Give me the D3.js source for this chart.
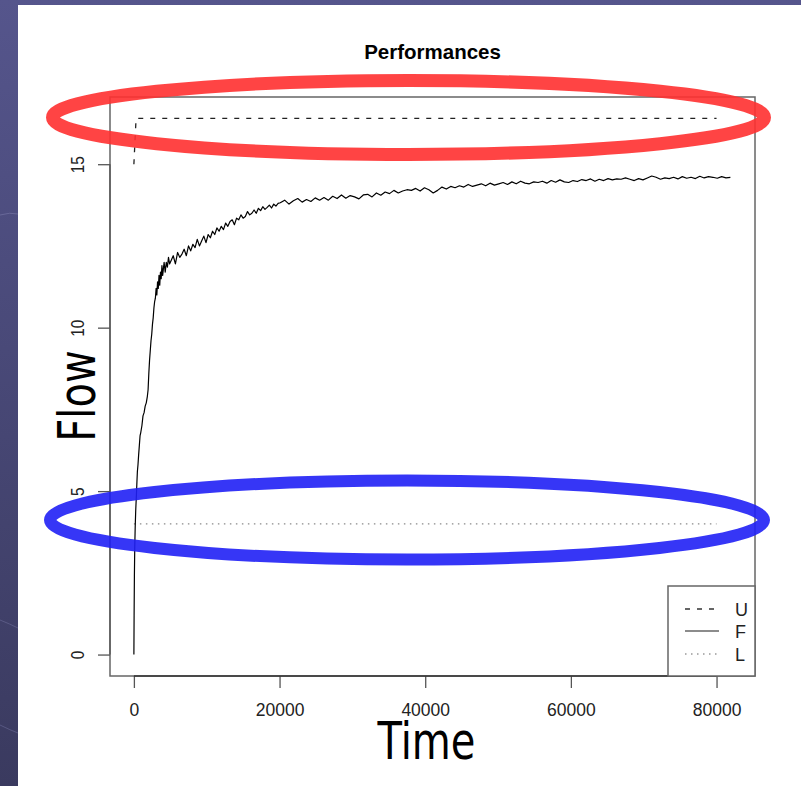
<!DOCTYPE html>
<html>
<head>
<meta charset="utf-8">
<script src="https://cdn.jsdelivr.net/npm/d3@7"></script>
<style>
html,body{margin:0;padding:0;background:#45456f;}
svg{display:block;}
</style>
</head>
<body>
<svg id="chart" width="801" height="786"></svg>
<script>
// ---------------- data ----------------
const chartTitle = "Performances";
const xLabel = "Time";
const yLabel = "Flow";
const xTicks = [0, 20000, 40000, 60000, 80000];
const yTicks = [0, 5, 10, 15];
const legendLabels = ["U", "F", "L"];

// U (upper bound) series: [time, value]
const uTime = [0, 300, 80000];
const uValue = [15, 16.4, 16.4];

// L (lower bound) series
const lTime = [0, 80000];
const lValue = [4, 4];

// F (flow) series, early rise: explicit times
const fEarlyTime = [0, 30, 70, 120, 180, 250, 330, 420, 480, 560, 650, 750, 850, 950, 1100, 1250, 1400, 1550, 1700, 1850,
  1950, 2050, 2150, 2250, 2350, 2450, 2550, 2650, 2750, 2850, 2950, 3050, 3150, 3250, 3350, 3450, 3550, 3650, 3750, 3850,
  3950, 4050, 4150, 4300, 4450, 4600, 4750, 4900];
const fEarlyValue = [0, 1.2, 2.4, 3.3, 3.9, 4.4, 4.8, 5.3, 5.6, 5.8, 6.1, 6.4, 6.7, 6.8, 7.0, 7.3, 7.4, 7.6, 7.7, 7.9,
  8.1, 8.6, 9.0, 9.3, 9.6, 9.8, 10.1, 10.3, 10.6, 10.8, 10.9, 11.2, 11.0, 11.4, 11.2, 11.6, 11.3, 11.7, 11.5, 11.9,
  11.6, 11.8, 12.0, 11.7, 12.0, 11.85, 12.15, 11.95];

// F middle part: sampled every 300 from t = 5100
const fMidStart = 5100, fMidStep = 300;
const fMidValue = [12.05, 12.2, 11.95, 12.3, 12.15, 12.25, 12.4, 12.2, 12.5, 12.35,
  12.55, 12.45, 12.7, 12.5, 12.65, 12.8, 12.6, 12.85, 12.75, 12.95,
  12.85, 13.05, 12.95, 13.1, 13.0, 13.2, 13.1, 13.25, 13.3, 13.15,
  13.35, 13.3, 13.45, 13.35, 13.4, 13.55, 13.45, 13.5, 13.6, 13.5,
  13.65, 13.58, 13.7, 13.62, 13.68, 13.75, 13.66, 13.78, 13.72, 13.8];

// F late part: sampled every 600 from t = 20100
const fLateStart = 20100, fLateStep = 600;
const fLateValue = [13.82, 13.9, 13.78, 13.88, 13.95, 13.84, 13.92, 13.86, 13.97, 13.9,
  13.98, 13.9, 14.02, 13.95, 14.06, 13.96, 14.04, 14.0, 13.94, 14.06,
  14.08, 14.0, 14.12, 14.05, 14.15, 14.1, 14.2, 14.12, 14.18, 14.22,
  14.2, 14.26, 14.18, 14.28, 14.22, 14.12, 14.2, 14.3, 14.24, 14.32,
  14.28, 14.34, 14.3, 14.38, 14.32, 14.36, 14.4, 14.34, 14.42, 14.36,
  14.4, 14.44, 14.38, 14.46, 14.4, 14.48, 14.42, 14.4, 14.46, 14.44,
  14.48, 14.42, 14.5, 14.45, 14.52, 14.46, 14.44, 14.5, 14.47, 14.53,
  14.5, 14.55, 14.48, 14.54, 14.5, 14.56, 14.52, 14.55, 14.54, 14.58,
  14.54, 14.5, 14.56, 14.52, 14.58, 14.64, 14.6, 14.54, 14.58, 14.56,
  14.6, 14.55, 14.62, 14.57, 14.6, 14.56, 14.63, 14.58, 14.62, 14.6,
  14.57, 14.62, 14.58, 14.6];

// ---------------- build series ----------------
const fSeries = fEarlyTime.map((t, i) => [t, fEarlyValue[i]])
  .concat(fMidValue.map((v, i) => [fMidStart + i * fMidStep, v]))
  .concat(fLateValue.map((v, i) => [fLateStart + i * fLateStep, v]));
const uSeries = uTime.map((t, i) => [t, uValue[i]]);
const lSeries = lTime.map((t, i) => [t, lValue[i]]);

// ---------------- layout ----------------
const svg = d3.select("#chart");
const plot = {left: 110, right: 755, top: 97, bottom: 676};

// background
const defs = svg.append("defs");
const grad = defs.append("linearGradient").attr("id", "bg").attr("x1", 0).attr("y1", 0).attr("x2", 0).attr("y2", 1);
grad.append("stop").attr("offset", "0%").attr("stop-color", "#55558c");
grad.append("stop").attr("offset", "100%").attr("stop-color", "#3a3a5f");
svg.append("rect").attr("width", 801).attr("height", 786).attr("fill", "url(#bg)");
svg.append("path").attr("d", "M0,215 Q10,212 18,214").attr("stroke", "#7a7aa8").attr("stroke-width", 1).attr("fill", "none").attr("opacity", 0.6);
svg.append("path").attr("d", "M0,620 Q10,624 18,628").attr("stroke", "#6a6a98").attr("stroke-width", 1).attr("fill", "none").attr("opacity", 0.6);
svg.append("path").attr("d", "M0,725 Q10,730 18,733").attr("stroke", "#6a6a98").attr("stroke-width", 1).attr("fill", "none").attr("opacity", 0.6);
svg.append("rect").attr("x", 18).attr("y", 5).attr("width", 783).attr("height", 781).attr("fill", "#ffffff");

// scales
const x = d3.scaleLinear().domain([-3280, 85280]).range([plot.left, plot.right]);
const y = d3.scaleLinear().domain([-0.656, 17.056]).range([plot.bottom, plot.top]);

const line = d3.line().x(d => x(d[0])).y(d => y(d[1]));

// series
svg.append("path").datum(lSeries).attr("d", line).attr("fill", "none")
  .attr("stroke", "#8a8a8a").attr("stroke-width", 1.3).attr("stroke-dasharray", "1.5,4.5");
svg.append("path").datum(uSeries).attr("d", line).attr("fill", "none")
  .attr("stroke", "#222").attr("stroke-width", 1.3).attr("stroke-dasharray", "5,7");
svg.append("path").datum(fSeries).attr("d", line).attr("fill", "none")
  .attr("stroke", "#000").attr("stroke-width", 1.2).attr("stroke-linejoin", "round");

// box
svg.append("rect").attr("x", plot.left).attr("y", plot.top)
  .attr("width", plot.right - plot.left).attr("height", plot.bottom - plot.top)
  .attr("fill", "none").attr("stroke", "#666").attr("stroke-width", 1.5);

// x axis
const xAxis = d3.axisBottom(x).tickValues(xTicks).tickSize(12).tickFormat(d3.format("d"));
const gx = svg.append("g").attr("transform", `translate(0,${plot.bottom})`).call(xAxis);
gx.select(".domain").remove();
gx.append("line").attr("x1", x(xTicks[0])).attr("x2", x(xTicks[xTicks.length - 1]))
  .attr("stroke", "#333").attr("stroke-width", 1.3);
gx.selectAll(".tick line").attr("stroke", "#555").attr("stroke-width", 1.3);
gx.selectAll(".tick text").attr("y", 40).attr("dy", null)
  .attr("font-family", "'Liberation Sans', Arial, sans-serif").attr("font-size", 17.5).attr("fill", "#222");

// y axis
const yAxis = d3.axisLeft(y).tickValues(yTicks).tickSize(12).tickFormat(d3.format("d"));
const gy = svg.append("g").attr("transform", `translate(${plot.left},0)`).call(yAxis);
gy.select(".domain").remove();
gy.append("line").attr("y1", y(yTicks[0])).attr("y2", y(yTicks[yTicks.length - 1]))
  .attr("stroke", "#555").attr("stroke-width", 1.3);
gy.selectAll(".tick line").attr("stroke", "#555").attr("stroke-width", 1.3);
gy.selectAll(".tick text").attr("x", 0).attr("y", -26).attr("dy", null)
  .attr("transform", "rotate(-90) scale(0.88,1)").attr("text-anchor", "middle")
  .attr("font-family", "'Liberation Sans', Arial, sans-serif").attr("font-size", 17.5).attr("fill", "#222");

// title
svg.append("text").attr("x", (plot.left + plot.right) / 2).attr("y", 59).attr("text-anchor", "middle")
  .attr("font-family", "'Liberation Sans', Arial, sans-serif").attr("font-weight", "bold")
  .attr("font-size", 20.5).attr("fill", "#000").text(chartTitle);

// axis titles
svg.append("text").attr("transform", "translate(426.5,759) scale(0.77,1)").attr("text-anchor", "middle")
  .attr("font-family", "'DejaVu Sans', sans-serif").attr("font-size", 52).attr("fill", "#000").text(xLabel);
svg.append("text").attr("transform", "translate(95,396) rotate(-90) scale(0.77,1)").attr("text-anchor", "middle")
  .attr("font-family", "'DejaVu Sans', sans-serif").attr("font-size", 52).attr("fill", "#000").text(yLabel);

// legend
const lg = svg.append("g");
lg.append("rect").attr("x", 668).attr("y", 586).attr("width", 87).attr("height", 90)
  .attr("fill", "#fff").attr("stroke", "#666").attr("stroke-width", 1.5);
const legendStyles = [
  {stroke: "#333", dash: "5,7"},
  {stroke: "#666", dash: null},
  {stroke: "#999", dash: "1.5,4.5"}
];
const legendY = [609, 631, 654];
legendLabels.forEach((lab, i) => {
  lg.append("line").attr("x1", 685).attr("x2", 719).attr("y1", legendY[i]).attr("y2", legendY[i])
    .attr("stroke", legendStyles[i].stroke).attr("stroke-width", 1.4)
    .attr("stroke-dasharray", legendStyles[i].dash);
  lg.append("text").attr("x", 735).attr("y", legendY[i] + 6.5)
    .attr("font-family", "'Liberation Sans', Arial, sans-serif").attr("font-size", 18).attr("fill", "#222").text(lab);
});

// highlight ellipses
svg.append("ellipse").attr("cx", 408.5).attr("cy", 117.5).attr("rx", 356).attr("ry", 37)
  .attr("fill", "none").attr("stroke", "#ff3030").attr("stroke-width", 13).attr("opacity", 0.9);
svg.append("ellipse").attr("cx", 407).attr("cy", 520).attr("rx", 357).attr("ry", 39.5)
  .attr("fill", "none").attr("stroke", "#2020f5").attr("stroke-width", 12).attr("opacity", 0.9);
</script>
</body>
</html>
